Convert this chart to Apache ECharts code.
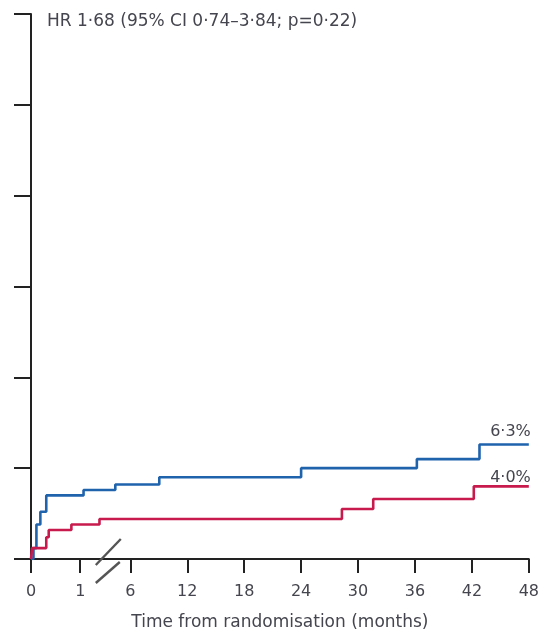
<!DOCTYPE html>
<html>
<head>
<meta charset="utf-8">
<script src="https://cdn.jsdelivr.net/npm/echarts@6/dist/echarts.min.js"></script>
<style>
  html, body { margin: 0; padding: 0; background: #fff; }
  #chart { width: 542px; height: 638px; }
</style>
</head>
<body>
<div id="chart"></div>
<script>
// Cumulative event curves (%), time in months from randomisation
const blueMonths = [0, 0.05, 0.11, 0.19, 0.31, 1.33, 4.5, 9.05, 24.0, 36.2, 42.8, 48];
const blueRisk   = [0, 0.6, 1.9, 2.6, 3.5, 3.8, 4.1, 4.5, 5.0, 5.5, 6.3, 6.3];
const redMonths  = [0, 0.02, 0.31, 0.36, 0.82, 2.92, 28.3, 31.6, 42.2, 48];
const redRisk    = [0, 0.6, 1.2, 1.6, 1.9, 2.2, 2.75, 3.3, 4.0, 4.0];

const xTickMonths = [0, 1, 6, 12, 18, 24, 30, 36, 42, 48];
const yTicks = [0, 5, 10, 15, 20, 25, 30];
const hrText = 'HR 1·68 (95% CI 0·74–3·84; p=0·22)';
const xTitle = 'Time from randomisation (months)';

// Broken time axis: the first month is stretched, months 1–6 are compressed,
// and from month 6 onwards the scale is linear in months.
const U0 = -4.47, U1 = 0.72;
function u(t) {
  if (t <= 1) return U0 + t * (U1 - U0);
  if (t <= 6) return U1 + (t - 1) * (6 - U1) / 5;
  return t;
}
const xTickPos = xTickMonths.map(u);

const TXT = '#45454f';
const FONT = "'DejaVu Sans', sans-serif";
const FS = 16;
const FS_TEXT = 17;
const fmtPct = v => v.toFixed(1).replace('.', '·') + '%';

const chart = echarts.init(document.getElementById('chart'), null, { renderer: 'canvas' });

function curve(name, months, risk, color, labelOffset) {
  return {
    name: name,
    type: 'line',
    step: 'end',
    showSymbol: false,
    animation: false,
    data: months.map((m, i) => [u(m), risk[i]]),
    lineStyle: { color: color, width: 2.6 },
    itemStyle: { color: color },
    endLabel: {
      show: true,
      distance: 0,
      align: 'right',
      verticalAlign: 'bottom',
      offset: labelOffset,
      color: TXT,
      fontFamily: FONT,
      fontSize: FS,
      formatter: p => fmtPct(p.value[1])
    }
  };
}

chart.setOption({
  animation: false,
  title: {
    text: hrText,
    left: 47,
    top: 13,
    padding: 0,
    textStyle: { color: TXT, fontFamily: FONT, fontSize: FS_TEXT, fontWeight: 'normal' }
  },
  grid: { left: 31, right: 11, top: 14, bottom: 79, containLabel: false },
  xAxis: {
    type: 'value',
    min: u(0),
    max: 48,
    splitLine: { show: false },
    axisLine: { show: true, onZero: false, lineStyle: { color: '#222', width: 2 } },
    axisTick: {
      show: true, length: 14, customValues: xTickPos,
      lineStyle: { color: '#222', width: 2 }
    },
    axisLabel: {
      show: true, customValues: xTickPos, margin: 25,
      color: TXT, fontFamily: FONT, fontSize: FS,
      formatter: v => {
        const i = xTickPos.findIndex(p => Math.abs(p - v) < 1e-6);
        return i >= 0 ? String(xTickMonths[i]) : '';
      }
    },
    name: xTitle,
    nameLocation: 'middle',
    nameGap: 55,
    nameTextStyle: { color: TXT, fontFamily: FONT, fontSize: FS_TEXT }
  },
  yAxis: {
    type: 'value',
    min: 0,
    max: 30,
    interval: 5,
    splitLine: { show: false },
    axisLine: { show: true, onZero: false, lineStyle: { color: '#222', width: 2 } },
    axisTick: { show: true, length: 17, customValues: yTicks, lineStyle: { color: '#222', width: 2 } },
    axisLabel: { show: false }
  },
  series: [
    curve('armA', blueMonths, blueRisk, '#1f63ad', [2, -5]),
    curve('armB', redMonths, redRisk, '#c81a4c', [2, 0])
  ]
});

// Axis-break marker between the 1 and 6 month ticks
const c = chart.convertToPixel({ gridIndex: 0 }, [u(3.75), 0]);
chart.setOption({
  graphic: [
    { type: 'line', shape: { x1: c[0] - 12, y1: c[1] + 6, x2: c[0] + 13, y2: c[1] - 20 },
      style: { stroke: '#555', lineWidth: 2.4 }, z: 100 },
    { type: 'line', shape: { x1: c[0] - 12, y1: c[1] + 24, x2: c[0] + 12, y2: c[1] + 3 },
      style: { stroke: '#555', lineWidth: 2.4 }, z: 100 }
  ]
});
</script>
</body>
</html>
